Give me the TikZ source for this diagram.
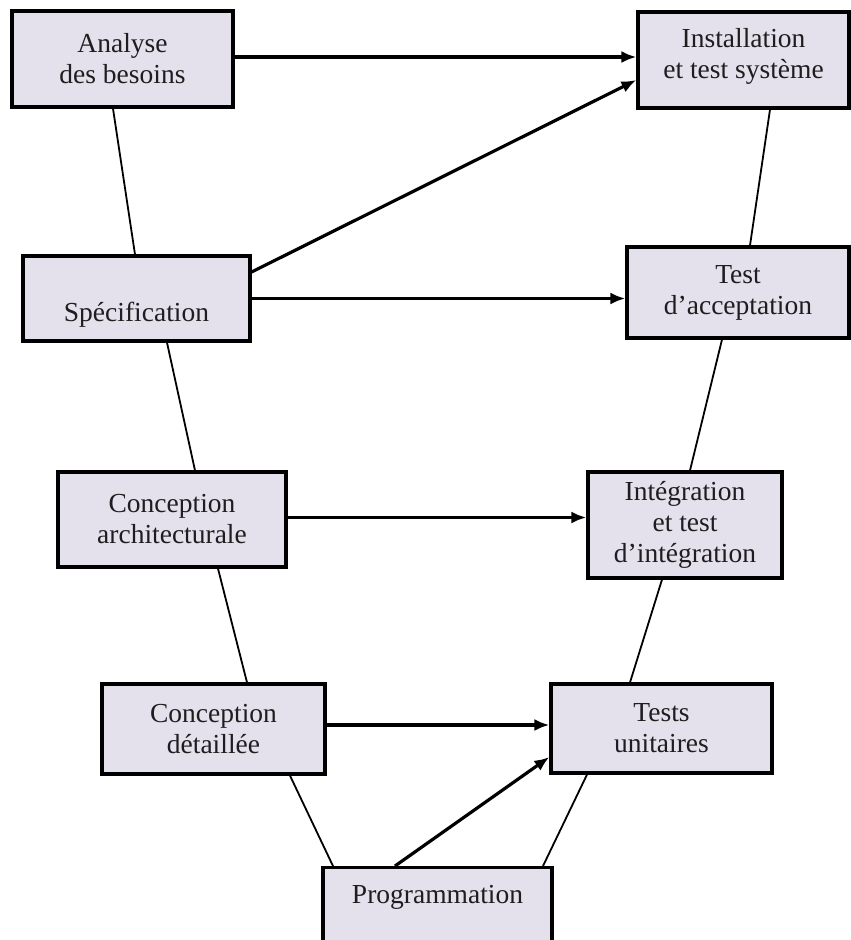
\documentclass[tikz,border=0pt]{standalone}
\usepackage{fontspec}
\setmainfont{Liberation Serif}
\usetikzlibrary{arrows.meta}
\definecolor{boxfill}{HTML}{E4E0EC}
\definecolor{txt}{HTML}{1E1E1E}
\tikzset{
  phase/.style={draw=black, line width=3.2pt, fill=boxfill, rectangle, inner sep=0pt,
    align=center, text=txt, font=\fontsize{27.5pt}{31pt}\selectfont},
  arr/.style={line width=3.2pt, -{Latex[length=15pt,width=12pt]}},
  thin/.style={line width=1.8pt}
}
\begin{document}
\begin{tikzpicture}[x=1pt,y=-1pt]
\useasboundingbox (0,0) rectangle (851,940);
\clip (0,0) rectangle (851,940);
\fill[white] (0,0) rectangle (851,940);

\node[phase, minimum width=221pt, minimum height=96pt] (A) at (122.5,59) {Analyse\\des besoins};
\node[phase, minimum width=211pt, minimum height=96pt, text depth=14pt] (I) at (743.5,60) {Installation\\et test système};
\node[phase, minimum width=227pt, minimum height=85pt] (S) at (136.5,298.5) {\strut\\Spécification};
\node[phase, minimum width=222pt, minimum height=91pt] (T) at (738,292.5) {Test\\d’acceptation};
\node[phase, minimum width=228pt, minimum height=95pt] (CA) at (172,519.5) {Conception\\architecturale};
\node[phase, minimum width=194pt, minimum height=106pt] (IT) at (685,525) {Intégration\\et test\\d’intégration};
\node[phase, minimum width=223pt, minimum height=90pt] (CD) at (213.5,729) {Conception\\détaillée};
\node[phase, minimum width=221pt, minimum height=89pt] (TU) at (661.5,728.5) {Tests\\unitaires};
\node[phase, minimum width=229pt, anchor=north, inner ysep=9pt, text height=27pt, text depth=70pt] (P) at (437.5,866) {Programmation};

% V-shape links
\draw[thin] ([xshift=-9.5pt]A.south) -- ([xshift=-1.5pt]S.north);
\draw[thin] ([xshift=30.5pt]S.south) -- ([xshift=23pt]CA.north);
\draw[thin] ([xshift=46pt]CA.south) -- ([xshift=33.5pt]CD.north);
\draw[thin] ([xshift=76.5pt]CD.south) -- ([xshift=-104.5pt]P.north);
\draw[thin] ([xshift=105.5pt]P.north) -- ([xshift=-74.5pt]TU.south);
\draw[thin] ([xshift=-31.5pt]TU.north) -- ([xshift=-23pt]IT.south);
\draw[thin] ([xshift=5pt]IT.north) -- ([xshift=-16pt]T.south);
\draw[thin] ([xshift=12pt]T.north) -- ([xshift=26.5pt]I.south);

% arrows
\draw[arr] ([yshift=2pt]A.east) -- ([yshift=2pt]A.east -| I.west);
\draw[arr] ([yshift=26.5pt]S.east) -- ([yshift=-20pt]I.west);
\draw[arr] (S.east) -- (S.east -| T.west);
\draw[arr] ([yshift=2pt]CA.east) -- ([yshift=2pt]CA.east -| IT.west);
\draw[arr] ([yshift=4pt]CD.east) -- ([yshift=4pt]CD.east -| TU.west);
\draw[arr] ([xshift=-42.5pt]P.north) -- ([yshift=-28.5pt]TU.west);
\end{tikzpicture}
\end{document}
